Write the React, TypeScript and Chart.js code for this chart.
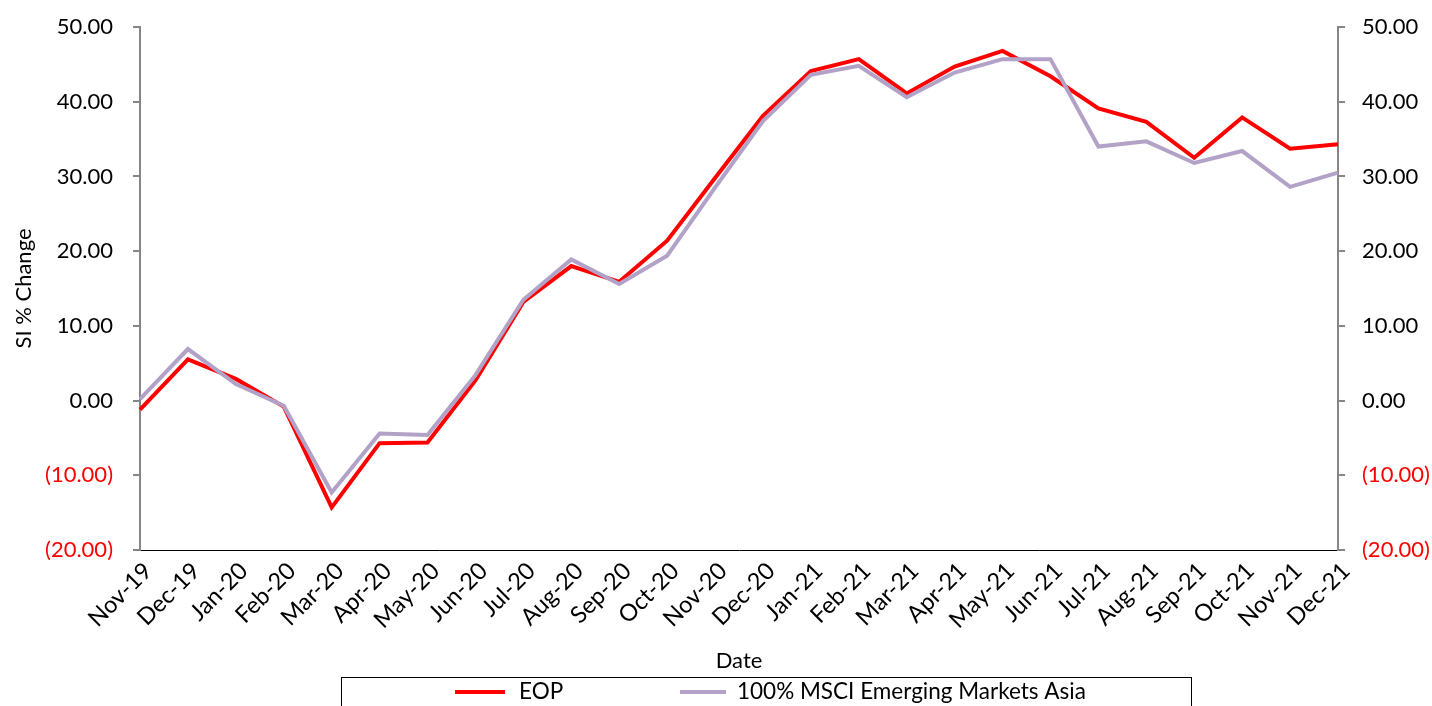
import React, { useEffect, useRef } from 'react';
import { Chart, registerables } from 'chart.js';

Chart.register(...registerables);

const categories = [
  'Nov-19', 'Dec-19', 'Jan-20', 'Feb-20', 'Mar-20', 'Apr-20', 'May-20', 'Jun-20',
  'Jul-20', 'Aug-20', 'Sep-20', 'Oct-20', 'Nov-20', 'Dec-20', 'Jan-21', 'Feb-21',
  'Mar-21', 'Apr-21', 'May-21', 'Jun-21', 'Jul-21', 'Aug-21', 'Sep-21', 'Oct-21',
  'Nov-21', 'Dec-21',
];

const eopValues = [
  -1.2, 5.5, 2.9, -0.8, -14.3, -5.7, -5.6, 2.7, 13.2, 18.0, 15.9, 21.4, 29.8,
  38.1, 44.1, 45.7, 41.1, 44.7, 46.8, 43.4, 39.1, 37.3, 32.5, 37.9, 33.7, 34.3,
];

const msciValues = [
  0.2, 6.9, 2.2, -0.7, -12.3, -4.4, -4.6, 3.4, 13.5, 18.9, 15.6, 19.4, 28.5,
  37.4, 43.6, 44.8, 40.6, 43.9, 45.7, 45.7, 34.0, 34.7, 31.8, 33.4, 28.6, 30.5,
];

const yTickValues = [-20, -10, 0, 10, 20, 30, 40, 50];
const seriesNames = ['EOP', '100% MSCI Emerging Markets Asia'];
const seriesColors = ['#FF0000', '#B3A2C7'];

const FONT = 'Lato, "Open Sans", sans-serif';
const FONT_SIZE = 22;
const X_FONT_SIZE = 23.5;

function fmt(v: number): string {
  return v < 0 ? `(${Math.abs(v).toFixed(2)})` : v.toFixed(2);
}

const boxLegend = {
  id: 'boxLegend',
  afterDraw(chart: any) {
    const ctx = chart.ctx as CanvasRenderingContext2D;
    ctx.save();
    ctx.strokeStyle = '#000000';
    ctx.lineWidth = 1;
    ctx.strokeRect(341.5, 677.5, 850, 60);
    const slots = [
      { x0: 455, x1: 505, tx: 519 },
      { x0: 680, x1: 726, tx: 737 },
    ];
    const y = 692;
    chart.data.datasets.forEach((ds: any, i: number) => {
      const s = slots[i];
      ctx.strokeStyle = ds.borderColor;
      ctx.lineWidth = 4;
      ctx.beginPath();
      ctx.moveTo(s.x0, y);
      ctx.lineTo(s.x1, y);
      ctx.stroke();
      ctx.fillStyle = '#000000';
      ctx.font = `22.5px ${FONT}`;
      ctx.textAlign = 'left';
      ctx.textBaseline = 'middle';
      ctx.fillText(ds.label, s.tx, y);
    });
    ctx.restore();
  },
};

function yScale(position: 'left' | 'right', padding: number, width: number, withTitle: boolean) {
  return {
    type: 'linear',
    position,
    min: -20,
    max: 50,
    afterBuildTicks(s: any) {
      s.ticks = yTickValues.map((v) => ({ value: v }));
    },
    afterFit(s: any) {
      s.width = width;
      s.paddingTop = 0;
      s.paddingBottom = 0;
    },
    ticks: {
      callback: (v: any) => fmt(Number(v)),
      color: (c: any) => (c.tick && c.tick.value < 0 ? '#FF0000' : '#000000'),
      padding,
      font: { family: FONT, size: FONT_SIZE },
    },
    grid: {
      drawOnChartArea: false,
      drawTicks: true,
      tickLength: 7,
      color: '#868686',
      lineWidth: 2,
    },
    border: { display: true, color: '#868686', width: 2 },
    title: {
      display: withTitle,
      text: 'SI % Change',
      color: '#000000',
      font: { family: FONT, size: FONT_SIZE },
      padding: { top: 11, bottom: 0 },
    },
  };
}

export default function App() {
  const canvasRef = useRef<HTMLCanvasElement | null>(null);

  useEffect(() => {
    if (!canvasRef.current) return;
    const chart = new Chart(canvasRef.current, {
      type: 'line',
      data: {
        labels: categories,
        datasets: [
          {
            label: seriesNames[0],
            data: eopValues,
            borderColor: seriesColors[0],
            backgroundColor: seriesColors[0],
            borderWidth: 4,
            pointRadius: 0,
            tension: 0,
            yAxisID: 'y',
            order: 1,
          },
          {
            label: seriesNames[1],
            data: msciValues,
            borderColor: seriesColors[1],
            backgroundColor: seriesColors[1],
            borderWidth: 4,
            pointRadius: 0,
            tension: 0,
            yAxisID: 'y',
            order: 0,
          },
        ],
      },
      options: {
        responsive: false,
        animation: false,
        layout: { padding: { top: 27, left: 0, right: 0, bottom: 0 } },
        plugins: {
          legend: { display: false },
          tooltip: { enabled: false },
        },
        scales: {
          x: {
            type: 'category',
            offset: false,
            afterFit(s: any) {
              s.height = 156;
            },
            grid: { display: false, drawTicks: false },
            border: { display: true, color: '#000000', width: 1 },
            ticks: {
              autoSkip: false,
              maxRotation: 45,
              minRotation: 45,
              padding: 7,
              labelOffset: 8,
              color: '#000000',
              font: { family: FONT, size: X_FONT_SIZE },
            },
            title: {
              display: true,
              text: 'Date',
              color: '#000000',
              font: { family: FONT, size: FONT_SIZE },
              padding: { top: 0, bottom: 32 },
            },
          },
          y: yScale('left', 20, 140, true),
          y1: yScale('right', 17, 94, false),
        } as any,
      },
      plugins: [boxLegend],
    } as any);
    return () => chart.destroy();
  }, []);

  return (
    <canvas
      ref={canvasRef}
      width={1432}
      height={706}
      style={{ position: 'absolute', left: 0, top: 0, width: 1432, height: 706 }}
    />
  );
}
